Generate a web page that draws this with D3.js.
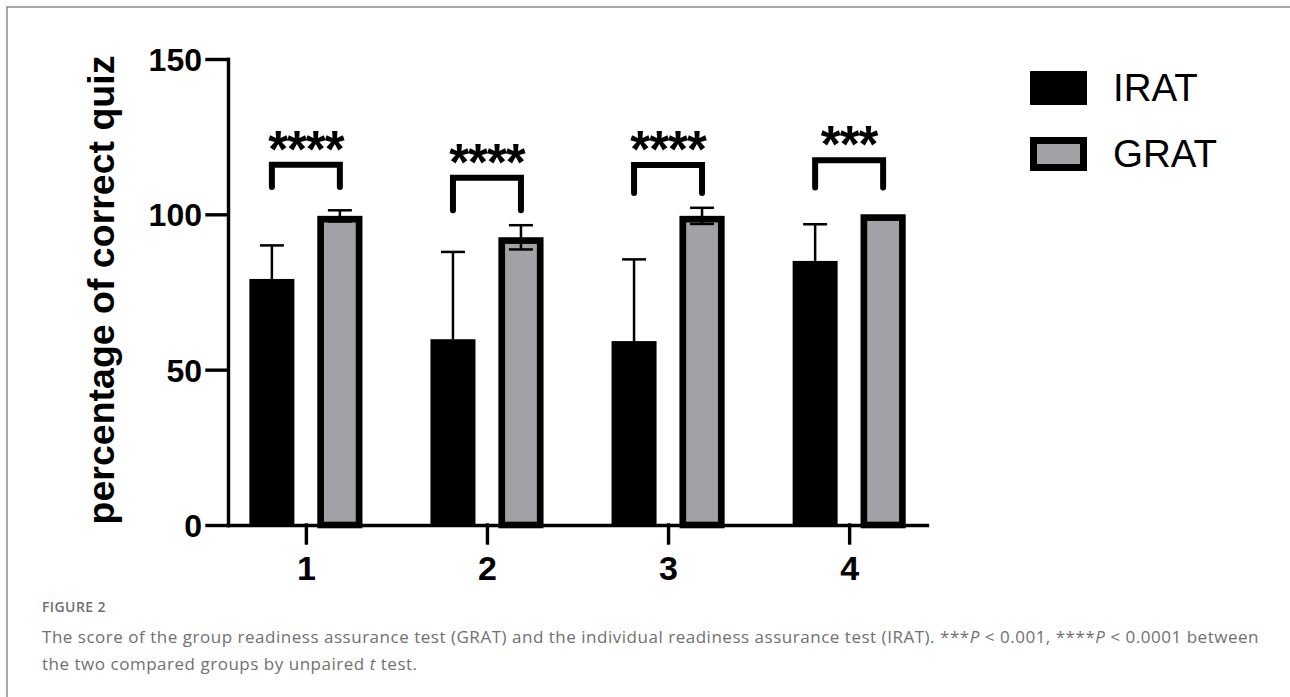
<!DOCTYPE html>
<html>
<head>
<meta charset="utf-8">
<script src="https://cdn.jsdelivr.net/npm/d3@7"></script>
<style>
  body { margin: 0; background: #fff; }
  svg { display: block; }
</style>
</head>
<body>
<script>
// figure 2 - IRAT vs GRAT bar chart

var categories = ['1', '2', '3', '4'];
var series = ['IRAT', 'GRAT'];
var iratMean = [79.2, 59.8, 59.2, 85.0];
var iratSD = [10.8, 28.1, 26.3, 11.8];
var gratMean = [99.5, 92.6, 99.5, 100];
var gratSD = [1.8, 3.9, 2.6, 0];
var yTicks = [0, 50, 100, 150];
// significance annotations (in data units)
var sigStars = ['****', '****', '****', '***'];
var sigTop = [116.0, 111.8, 115.9, 117.4];
var sigLeg = [108.8, 101.3, 106.9, 108.6];

var width = 1290;
var height = 697;

var svg = d3.select('body').append('svg')
    .attr('width', width)
    .attr('height', height);

// outer frame
svg.append('rect')
    .attr('x', 7)
    .attr('y', 7)
    .attr('width', 1320)
    .attr('height', 720)
    .attr('fill', 'none')
    .attr('stroke', '#8a8a8a')
    .attr('stroke-width', 1.5);

var y = d3.scaleLinear().domain([0, 150]).range([525, 59]);
var x = d3.scalePoint().domain(categories).range([228, 927]).padding(0.43);
var xSub = d3.scaleBand().domain(series).range([-56.5, 56.5]).paddingInner(0.338);

var fills = {IRAT: '#000000', GRAT: '#a2a1a6'};
var means = {IRAT: iratMean, GRAT: gratMean};
var sds = {IRAT: iratSD, GRAT: gratSD};

var rows = [];
categories.forEach(function(c, i) {
    series.forEach(function(s) {
        rows.push({cat: c, s: s, v: means[s][i], sd: sds[s][i]});
    });
});

var bw = xSub.bandwidth();
var border = 6.6;

// bars
var bars = svg.append('g');
bars.selectAll('rect.bar')
    .data(rows)
    .enter().append('rect')
    .attr('class', 'bar')
    .attr('x', function(d) { return x(d.cat) + xSub(d.s); })
    .attr('y', function(d) { return y(d.v); })
    .attr('width', bw)
    .attr('height', function(d) { return y(0) - y(d.v); })
    .attr('fill', function(d) { return fills[d.s]; });

// thick black outline drawn inside GRAT bars
bars.selectAll('rect.outline')
    .data(rows.filter(function(d) { return d.s === 'GRAT'; }))
    .enter().append('rect')
    .attr('class', 'outline')
    .attr('x', function(d) { return x(d.cat) + xSub(d.s) + border / 2; })
    .attr('y', function(d) { return y(d.v) + border / 2; })
    .attr('width', bw - border)
    .attr('height', function(d) { return y(0) - y(d.v) - border / 2; })
    .attr('fill', 'none')
    .attr('stroke', '#000')
    .attr('stroke-width', border);

// error bars
var eb = svg.append('g')
    .attr('stroke', '#000')
    .attr('stroke-width', 2.5);
rows.filter(function(d) { return d.sd > 0; }).forEach(function(d) {
    var cx = x(d.cat) + xSub(d.s) + bw / 2;
    var lo = d.s === 'GRAT' ? d.v - d.sd : d.v;
    eb.append('line')
        .attr('x1', cx).attr('x2', cx)
        .attr('y1', y(d.v + d.sd)).attr('y2', y(lo));
    eb.append('line')
        .attr('x1', cx - 12).attr('x2', cx + 12)
        .attr('y1', y(d.v + d.sd)).attr('y2', y(d.v + d.sd));
    if (d.s === 'GRAT') {
        eb.append('line')
            .attr('x1', cx - 12).attr('x2', cx + 12)
            .attr('y1', y(lo)).attr('y2', y(lo));
    }
});

// axes
var yAxis = svg.append('g')
    .attr('transform', 'translate(228,0)')
    .call(d3.axisLeft(y).tickValues(yTicks).tickSize(21).tickSizeOuter(0).tickPadding(5));
var xAxis = svg.append('g')
    .attr('transform', 'translate(0,525)')
    .call(d3.axisBottom(x).tickSize(18).tickSizeOuter(0).tickPadding(13));

[yAxis, xAxis].forEach(function(a) {
    a.selectAll('path, line')
        .attr('stroke', '#000')
        .attr('stroke-width', 3.4)
        .attr('stroke-linecap', 'square');
    a.selectAll('text')
        .attr('fill', '#000')
        .style('font-family', 'Liberation Sans, Arial, sans-serif')
        .style('font-weight', 'bold');
});
yAxis.selectAll('text').style('font-size', '32px').attr('dy', '0.36em');
xAxis.selectAll('text').style('font-size', '34px').attr('dy', '0.71em');

// y axis title
svg.append('text')
    .attr('transform', 'translate(114,290) rotate(-90)')
    .attr('text-anchor', 'middle')
    .style('font-family', 'Liberation Sans, Arial, sans-serif')
    .style('font-weight', 'bold')
    .style('font-size', '37.5px')
    .text('percentage of correct quiz');

// significance brackets
var sig = svg.append('g');
categories.forEach(function(c, i) {
    var x1 = x(c) + xSub('IRAT') + bw / 2;
    var x2 = x(c) + xSub('GRAT') + bw / 2;
    sig.append('path')
        .attr('d', d3.line()([[x1, y(sigLeg[i])], [x1, y(sigTop[i])], [x2, y(sigTop[i])], [x2, y(sigLeg[i])]]))
        .attr('fill', 'none')
        .attr('stroke', '#000')
        .attr('stroke-width', 6)
        .attr('stroke-linecap', 'round')
        .attr('stroke-linejoin', 'miter');
    sig.append('text')
        .attr('x', (x1 + x2) / 2)
        .attr('y', y(sigTop[i]) - 25 + 27)
        .attr('text-anchor', 'middle')
        .style('font-family', 'Liberation Sans, Arial, sans-serif')
        .style('font-weight', 'bold')
        .style('font-size', '51px')
        .style('letter-spacing', '-1px')
        .text(sigStars[i]);
});

// legend
var legend = svg.append('g');
series.forEach(function(s, i) {
    var ly = 71 + i * 66;
    legend.append('rect')
        .attr('x', 1030 + (s === 'GRAT' ? 3.5 : 0))
        .attr('y', ly + (s === 'GRAT' ? 3.5 : 0))
        .attr('width', s === 'GRAT' ? 50 : 57)
        .attr('height', s === 'GRAT' ? 27 : 34)
        .attr('fill', fills[s])
        .attr('stroke', s === 'GRAT' ? '#000' : 'none')
        .attr('stroke-width', 7);
    legend.append('text')
        .attr('x', 1113)
        .attr('y', ly + 30)
        .style('font-family', 'Liberation Sans, Arial, sans-serif')
        .style('font-size', '38.5px')
        .attr('fill', '#000')
        .text(s);
});

// caption
var cap = svg.append('g')
    .style('font-family', '"Open Sans", Lato, sans-serif')
    .attr('fill', '#707070');
cap.append('text')
    .attr('x', 42).attr('y', 612)
    .style('font-size', '14px')
    .style('font-weight', '600')
    .style('letter-spacing', '0.4px')
    .text('FIGURE 2');
var l1 = cap.append('text')
    .attr('x', 42).attr('y', 643)
    .style('font-size', '17px')
    .style('letter-spacing', '0.52px');
l1.append('tspan').text('The score of the group readiness assurance test (GRAT) and the individual readiness assurance test (IRAT). ***');
l1.append('tspan').style('font-style', 'italic').text('P');
l1.append('tspan').text(' < 0.001, ****');
l1.append('tspan').style('font-style', 'italic').text('P');
l1.append('tspan').text(' < 0.0001 between');
var l2 = cap.append('text')
    .attr('x', 42).attr('y', 670)
    .style('font-size', '17px')
    .style('letter-spacing', '0.52px');
l2.append('tspan').text('the two compared groups by unpaired ');
l2.append('tspan').style('font-style', 'italic').text('t');
l2.append('tspan').text(' test.');
</script>
</body>
</html>
